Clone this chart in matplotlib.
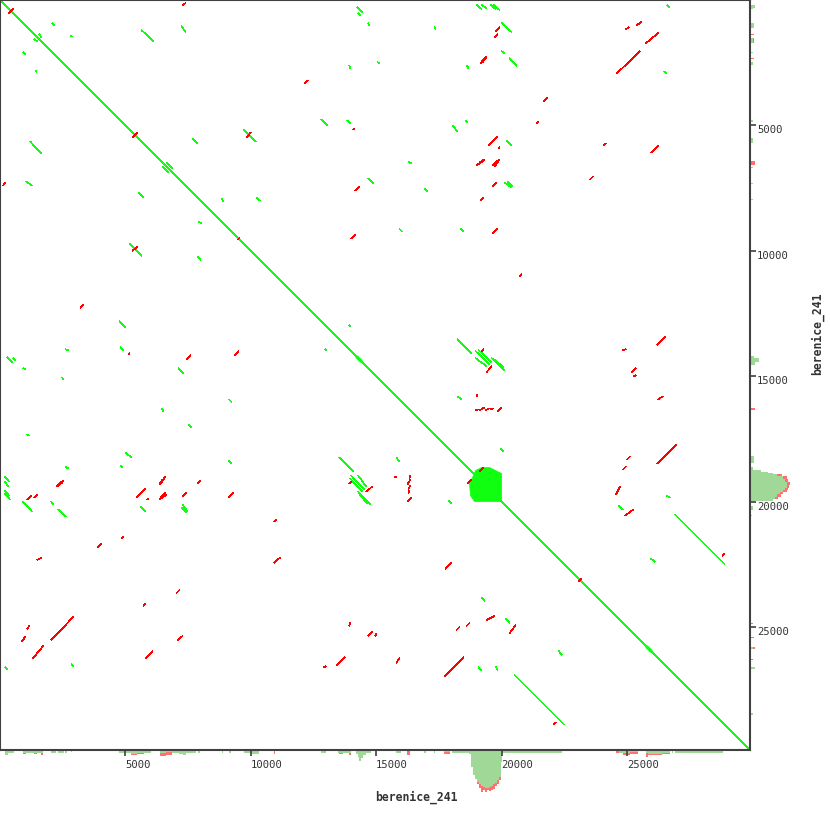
import matplotlib
matplotlib.use("Agg")
import matplotlib.pyplot as plt
from matplotlib.collections import LineCollection
from matplotlib.patches import Polygon

SEQ_NAME = "berenice_241"
SEQ_LEN = 29903
TICKS = [5000, 10000, 15000, 20000, 25000]

# forward (same-strand) matches in upper triangle: x0, y0, x1, y1 (bp); mirrored
FWD_X0 = [14240, 14280, 14680, 7240, 5640, 2080, 1560, 2800, 13920, 12800, 13840, 9720, 7680, 6640, 14680, 8840, 10240, 13920,
          19000, 19200, 19560, 19680, 26600, 17320, 20000, 26480, 20000, 20320, 18600, 15040, 18560, 18040, 20200, 16280, 20120,
          20240, 16920, 15920, 18360, 18240, 18960, 19080, 18960, 19600, 19680, 18240, 19960, 26560, 24680, 26920, 25960]
FWD_Y0 = [280, 520, 920, 1040, 1200, 920, 1360, 1440, 2600, 4760, 4800, 5160, 5520, 6480, 7120, 7920, 7880, 12960,
          200, 200, 200, 200, 200, 1080, 920, 2840, 2040, 2320, 2600, 2480, 4800, 5000, 5600, 6440, 7280,
          7240, 7520, 9120, 9120, 13520, 14000, 13960, 14280, 14280, 14320, 15800, 17880, 19760, 20160, 20520, 22280]
FWD_X1 = [14440, 14360, 14720, 7400, 6120, 2160, 1640, 2880, 13960, 13040, 13960, 10200, 7880, 6880, 14880, 8920, 10360, 13960,
          19200, 19400, 19760, 19920, 26680, 17360, 20400, 26560, 20120, 20600, 18680, 15120, 18640, 18240, 20400, 16400, 20400,
          20440, 17040, 16040, 18480, 18800, 19520, 19600, 19400, 20120, 20080, 18400, 20080, 26720, 24840, 28880, 26120]
FWD_Y1 = [480, 600, 1000, 1280, 1640, 1000, 1480, 1460, 2720, 5000, 4920, 5640, 5720, 6720, 7320, 8040, 8000, 13000,
          360, 320, 360, 400, 280, 1160, 1280, 2920, 2120, 2640, 2720, 2520, 4880, 5240, 5800, 6520, 7480,
          7440, 7640, 9240, 9240, 14080, 14520, 14440, 14600, 14760, 14640, 15920, 18000, 19840, 20320, 22480, 22400]

# forward matches seen on one side only
FWD1_X0 = [19080, 19200]
FWD1_Y0 = [26600, 23840]
FWD1_X1 = [19200, 19320]
FWD1_Y1 = [26720, 23960]

# reverse-complement matches in upper triangle (mirrored)
REV_X0 = [7280, 12160, 14080, 14160, 14000, 19760, 19720, 24960, 25400, 25760, 24600, 19160, 19240, 21680, 21400, 19480, 19880,
          24080, 25960, 19000, 19080, 19120, 19640, 19720, 19640, 19160, 23520, 19640, 20720, 19200, 19400, 24840, 26200, 25200,
          25280, 26240, 26200, 25000, 24840, 24560, 24920, 28800, 19000, 18960, 19120, 19360, 19560, 19840, 19120, 9840]
REV_Y0 = [200, 3320, 5160, 7600, 9520, 1240, 1480, 1160, 1000, 1720, 2920, 2520, 2480, 4040, 4920, 5800, 5920,
          5800, 6080, 6600, 6560, 6480, 6600, 6640, 7440, 8000, 7160, 9320, 11000, 14000, 14840, 13960, 13760, 14840,
          15000, 15920, 18480, 18320, 18720, 19720, 20560, 22160, 15800, 16360, 16360, 16360, 16320, 16400, 18800, 5480]
REV_X1 = [7400, 12280, 14120, 14320, 14160, 19920, 19840, 25080, 25560, 26240, 25520, 19360, 19400, 21840, 21480, 19840, 19920,
          24160, 26240, 19240, 19320, 19280, 19840, 19920, 19800, 19280, 23640, 19840, 20800, 19280, 19600, 24960, 26520, 25360,
          25360, 26440, 26960, 25120, 24960, 24720, 25240, 28880, 19040, 19080, 19320, 19520, 19680, 20000, 19280, 10000]
REV_Y1 = [120, 3200, 5120, 7440, 9360, 1080, 1360, 1080, 880, 1320, 2040, 2280, 2280, 3880, 4840, 5440, 5840,
          5720, 5800, 6400, 6360, 6360, 6400, 6360, 7280, 7880, 7040, 9120, 10920, 13920, 14600, 13920, 13440, 14680,
          14960, 15800, 17720, 18200, 18600, 19400, 20320, 22080, 15720, 16320, 16240, 16280, 16280, 16240, 18640, 5280]

# reverse matches drawn once (crossing the diagonal or one-sided)
REV1_X0 = [360, 5280, 9480, 23080, 1480, 10920, 7080, 17760, 12920]
REV1_Y0 = [520, 5480, 9560, 23160, 22320, 22440, 25520, 22680, 26600]
REV1_X1 = [520, 5480, 9560, 23160, 1640, 11160, 7280, 18000, 13000]
REV1_Y1 = [360, 5280, 9480, 23080, 22240, 22240, 25360, 22440, 26560]

# thick spots on the main diagonal (start, end)
DIAG_SPOT_START = [14240, 25800]
DIAG_SPOT_END = [14400, 25960]

# dense low-complexity repeat block outline (bp)
BLOCK_X = [18840, 18960, 19200, 19520, 19760, 20000, 20000, 18920, 18760, 18720]
BLOCK_Y = [19040, 18760, 18640, 18640, 18760, 18880, 20000, 20000, 19760, 19280]

# coverage profile along x (bottom): bin start, bin end, forward level, total level
BOT_START = [200, 320, 920, 1040, 1360, 1480, 1640, 2040, 2320, 2600, 2840, 4760, 5240, 5480, 5760, 6360, 6600, 6840, 7120,
             7280, 7400, 7880, 8840, 9120, 9720, 10000, 10920, 12800, 13480, 13520, 13680, 13920, 14200, 14280, 14320, 14400,
             14480, 14600, 15800, 16240, 16920, 17320, 17720, 18040, 18680, 18760, 18840, 18920, 19000, 19080, 19160, 19240,
             19320, 19400, 19480, 19560, 19640, 19720, 19800, 19880, 19960, 20000, 24560, 24680, 24840, 25120, 25760, 25840,
             26400, 26800, 26920]
BOT_END = [320, 560, 1040, 1360, 1480, 1640, 1720, 2240, 2560, 2680, 2880, 5240, 5480, 5760, 6040, 6600, 6840, 7120, 7280,
           7400, 7800, 7960, 8880, 9200, 10000, 10320, 10960, 13000, 13520, 13680, 13920, 14000, 14280, 14320, 14400, 14480,
           14600, 14800, 16000, 16360, 17000, 17360, 17960, 18680, 18760, 18840, 18920, 19000, 19080, 19160, 19240, 19320,
           19400, 19480, 19560, 19640, 19720, 19800, 19880, 19960, 20000, 22400, 24680, 24840, 25120, 25440, 25840, 26400,
           26720, 26840, 28840]
BOT_FWD = [4, 2, 2, 2, 2, 2, 2, 2, 2, 2, 1, 2, 3, 2, 2, 2, 1, 2, 3,
           4, 2, 2, 2, 2, 2, 3, 0, 2, 2, 2, 2, 2, 3, 6, 10, 7,
           4, 2, 2, 0, 2, 2, 1, 2, 3, 16, 24, 28, 31, 33, 35, 36,
           37, 37, 36, 35, 33, 32, 29, 26, 11, 2, 0, 2, 2, 1, 2, 3,
           2, 2, 2]
BOT_ALL = [4, 2, 3, 2, 3, 2, 4, 2, 2, 2, 1, 2, 4, 3, 2, 5, 4, 2, 3,
           4, 2, 2, 2, 2, 2, 3, 3, 2, 2, 3, 2, 4, 3, 6, 10, 7,
           4, 2, 2, 4, 2, 2, 3, 2, 3, 16, 24, 28, 33, 37, 41, 39,
           41, 39, 40, 39, 38, 35, 33, 29, 11, 2, 2, 2, 4, 3, 6, 4,
           3, 2, 2]

# coverage profile along y (right)
RGT_START = [200, 320, 920, 1360, 1520, 2080, 2320, 2480, 4800, 5520, 6400, 6640, 7280, 7920, 14200, 14280, 14440, 16280,
             18200, 18600, 18720, 18800, 18840, 18880, 18960, 19080, 19200, 19320, 19440, 19520, 19600, 19680, 19800, 19880,
             20160, 20520, 24840, 25400, 25800, 26280, 26600, 28440]
RGT_END = [320, 360, 1120, 1400, 1720, 2120, 2360, 2600, 4880, 5720, 6560, 6680, 7320, 7960, 14280, 14440, 14560, 16360,
           18480, 18720, 18800, 18840, 18880, 18960, 19080, 19200, 19320, 19440, 19520, 19600, 19680, 19800, 19880, 19960,
           20320, 20560, 24880, 25440, 25880, 26320, 26680, 28520]
RGT_FWD = [4, 2, 3, 0, 2, 2, 0, 2, 2, 2, 0, 2, 2, 2, 3, 8, 4, 0,
           3, 2, 10, 17, 22, 26, 32, 34, 36, 36, 34, 32, 29, 26, 24, 22,
           2, 1, 0, 0, 2, 0, 4, 2]
RGT_ALL = [4, 2, 3, 3, 3, 2, 3, 2, 2, 2, 4, 2, 2, 2, 3, 8, 4, 4,
           3, 2, 10, 17, 22, 31, 36, 37, 39, 38, 37, 36, 32, 30, 27, 22,
           2, 1, 2, 3, 4, 2, 4, 2]

# ---------------------------------------------------------------- styling
GREEN = "#10ff10"
RED = "#ff0000"
HIST_GREEN = "#a0d898"
HIST_RED = "#ff7070"
FRAME = "#404040"
TXT = "#333333"
MONO = "DejaVu Sans Mono"

W = 830.0
fig = plt.figure(figsize=(8.3, 8.3), dpi=100)


def rect(x, y, w, h):
    return [x / W, 1 - (y + h) / W, w / W, h / W]


hb = fig.add_axes(rect(0, 751, 750, 60))
hr = fig.add_axes(rect(751, 0, 60, 750))
ax = fig.add_axes(rect(0, 0, 750, 750))
for h in (hb, hr):
    h.set_zorder(0)
    h.set_axis_off()
    h.patch.set_alpha(0)
ax.set_zorder(2)

ax.set_xlim(0, SEQ_LEN)
ax.set_ylim(SEQ_LEN, 0)

# main diagonal
ax.plot([0, SEQ_LEN], [0, SEQ_LEN], color=GREEN, lw=0.45, antialiased=False, zorder=2)
for s, e in zip(DIAG_SPOT_START, DIAG_SPOT_END):
    ax.plot([s, e], [s, e], color=GREEN, lw=2.4, solid_capstyle="round", zorder=3)


def segs(x0, y0, x1, y1, mirror):
    out = [[(a, b), (c, d)] for a, b, c, d in zip(x0, y0, x1, y1)]
    if mirror:
        out += [[(b, a), (d, c)] for a, b, c, d in zip(x0, y0, x1, y1)]
    return out


fwd = segs(FWD_X0, FWD_Y0, FWD_X1, FWD_Y1, True) + segs(FWD1_X0, FWD1_Y0, FWD1_X1, FWD1_Y1, False)
rev = segs(REV_X0, REV_Y0, REV_X1, REV_Y1, True) + segs(REV1_X0, REV1_Y0, REV1_X1, REV1_Y1, False)
ax.add_collection(LineCollection(fwd, colors=GREEN, linewidths=0.45, antialiased=False, zorder=3))
ax.add_collection(LineCollection(rev, colors=RED, linewidths=0.45, antialiased=False, zorder=4))
ax.add_patch(Polygon(list(zip(BLOCK_X, BLOCK_Y)), closed=True, facecolor=GREEN, edgecolor=GREEN, lw=0.5, zorder=3))

for sp in ax.spines.values():
    sp.set_color(FRAME)
    sp.set_linewidth(1.5)
ax.set_xticks(TICKS)
ax.set_yticks(TICKS)
ax.set_xticklabels([str(t) for t in TICKS])
ax.set_yticklabels([str(t) for t in TICKS])
ax.xaxis.set_ticks_position("bottom")
ax.yaxis.set_ticks_position("right")
ax.tick_params(axis="x", direction="out", length=4, width=1.2, color=FRAME, labelsize=7.6,
               labelcolor=TXT, pad=3)
ax.tick_params(axis="y", direction="out", length=4, width=1.2, color=FRAME, labelsize=7.6,
               labelcolor=TXT, pad=1)
for lab in ax.get_xticklabels():
    lab.set_ha("left")
    lab.set_family(MONO)
for lab in ax.get_yticklabels():
    lab.set_va("top")
    lab.set_family(MONO)

# coverage profiles
hb.set_xlim(0, SEQ_LEN)
hb.set_ylim(60, 0)
bw = [e - s for s, e in zip(BOT_START, BOT_END)]
hb.bar(BOT_START, BOT_ALL, width=bw, align="edge", color=HIST_RED, linewidth=0)
hb.bar(BOT_START, BOT_FWD, width=bw, align="edge", color=HIST_GREEN, linewidth=0)

hr.set_ylim(SEQ_LEN, 0)
hr.set_xlim(0, 60)
rw = [e - s for s, e in zip(RGT_START, RGT_END)]
hr.barh(RGT_START, RGT_ALL, height=rw, align="edge", color=HIST_RED, linewidth=0)
hr.barh(RGT_START, RGT_FWD, height=rw, align="edge", color=HIST_GREEN, linewidth=0)

fig.text(375 / W, 1 - 797 / W, SEQ_NAME, ha="left", va="center", family=MONO,
         fontweight="bold", fontsize=8.3, color=TXT)
fig.text(817 / W, 1 - 375 / W, SEQ_NAME, ha="left", va="center", rotation=90,
         rotation_mode="anchor", family=MONO, fontweight="bold", fontsize=8.3, color=TXT)

fig.savefig("out.png", dpi=100, facecolor="white")
